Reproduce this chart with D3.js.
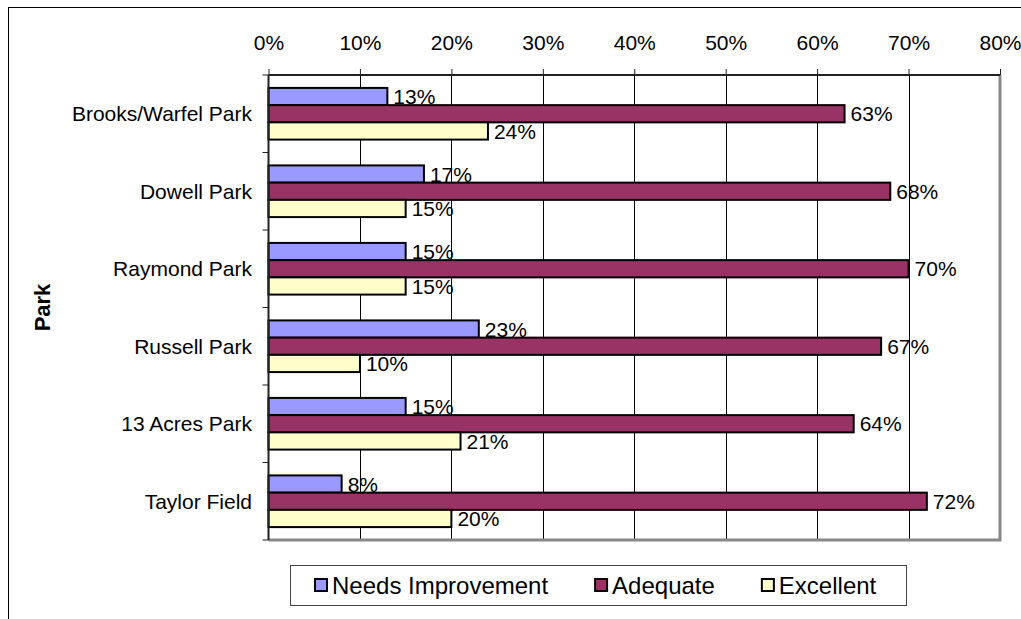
<!DOCTYPE html>
<html>
<head>
<meta charset="utf-8">
<script src="https://cdn.jsdelivr.net/npm/d3@7"></script>
<style>
  html, body { margin: 0; padding: 0; background: #fff; }
  svg { display: block; font-family: "Liberation Sans", Arial, sans-serif; }
</style>
</head>
<body>
<svg id="chart" width="1021" height="619"></svg>
<script>
const categories = ["Brooks/Warfel Park", "Dowell Park", "Raymond Park", "Russell Park", "13 Acres Park", "Taylor Field"];
const seriesNames = ["Needs Improvement", "Adequate", "Excellent"];
const needsImprovement = [0.13, 0.17, 0.15, 0.23, 0.15, 0.08];
const adequate = [0.63, 0.68, 0.70, 0.67, 0.64, 0.72];
const excellent = [0.24, 0.15, 0.15, 0.10, 0.21, 0.20];
const tickValues = [0, 0.1, 0.2, 0.3, 0.4, 0.5, 0.6, 0.7, 0.8];
const axisTitle = "Park";

const seriesValues = [needsImprovement, adequate, excellent];
const colors = ["#9999FF", "#993366", "#FFFFCC"];

const svg = d3.select("#chart");
const plot = { left: 268.5, right: 1000, top: 75, bottom: 540 };

// outer chart border (only left/top visible)
svg.append("rect")
  .attr("x", 8.5).attr("y", 7.5).attr("width", 1100).attr("height", 700)
  .attr("fill", "#fff").attr("stroke", "#000").attr("stroke-width", 1);

const x = d3.scaleLinear().domain([0, 0.8]).range([plot.left, plot.right]);
const y = d3.scaleBand().domain(categories).range([plot.top, plot.bottom]).padding(0);
const ySub = d3.scaleBand().domain(seriesNames).range([0, y.bandwidth()]).paddingInner(0).paddingOuter(0.75);

// gridlines
svg.append("g").selectAll("line")
  .data(tickValues.filter(d => d > 0 && d < 0.8))
  .join("line")
  .attr("x1", d => Math.round(x(d)) + 0.5).attr("x2", d => Math.round(x(d)) + 0.5)
  .attr("y1", plot.top).attr("y2", plot.bottom)
  .attr("stroke", "#000").attr("stroke-width", 1);

// plot area right/bottom border (gray)
svg.append("path")
  .attr("d", `M${x(0.8)},${plot.top} V${plot.bottom} H${plot.left}`)
  .attr("fill", "none").attr("stroke", "#888").attr("stroke-width", 3);

// bars
const data = [];
categories.forEach((c, i) => {
  seriesNames.forEach((s, j) => {
    data.push({ cat: c, series: s, value: seriesValues[j][i], color: colors[j] });
  });
});

const bars = svg.append("g");
bars.selectAll("rect")
  .data(data)
  .join("rect")
  .attr("x", x(0))
  .attr("y", d => y(d.cat) + ySub(d.series))
  .attr("width", d => x(d.value) - x(0))
  .attr("height", ySub.bandwidth())
  .attr("fill", d => d.color)
  .attr("stroke", "#000")
  .attr("stroke-width", 2);

// data labels
svg.append("g").selectAll("text")
  .data(data)
  .join("text")
  .attr("x", d => x(d.value) + 6)
  .attr("y", d => y(d.cat) + ySub(d.series) + ySub.bandwidth() / 2)
  .attr("dy", "0.36em")
  .attr("font-size", 21)
  .attr("fill", "#000")
  .text(d => d3.format(".0%")(d.value));

// top axis
const xAxis = d3.axisTop(x).tickValues(tickValues).tickFormat(d3.format(".0%"))
  .tickSize(6).tickPadding(19);
const gx = svg.append("g").attr("transform", `translate(0,${plot.top})`).call(xAxis);
gx.select(".domain").attr("stroke", "#222").attr("stroke-width", 2).attr("d", `M${plot.left},0H${plot.right}`);
gx.selectAll(".tick line").attr("stroke", "#222");
gx.selectAll(".tick text").attr("font-size", 21).attr("fill", "#000")
  .attr("font-family", "'Liberation Sans', Arial, sans-serif");

// left axis
const gy = svg.append("g");
gy.append("line")
  .attr("x1", plot.left).attr("x2", plot.left)
  .attr("y1", plot.top).attr("y2", plot.bottom)
  .attr("stroke", "#222").attr("stroke-width", 2);
const boundaries = categories.map(c => y(c)).concat([plot.bottom]);
gy.selectAll("line.tk")
  .data(boundaries)
  .join("line").attr("class", "tk")
  .attr("x1", plot.left - 6).attr("x2", plot.left)
  .attr("y1", d => d).attr("y2", d => d)
  .attr("stroke", "#222").attr("stroke-width", 1);
gy.selectAll("text")
  .data(categories)
  .join("text")
  .attr("x", 252)
  .attr("y", d => y(d) + y.bandwidth() / 2)
  .attr("dy", "0.36em")
  .attr("text-anchor", "end")
  .attr("font-size", 21)
  .text(d => d);

// axis title
svg.append("text")
  .attr("transform", `translate(50,${(plot.top + plot.bottom) / 2}) rotate(-90)`)
  .attr("text-anchor", "middle")
  .attr("font-size", 22)
  .attr("font-weight", "bold")
  .text(axisTitle);

// legend
const legend = svg.append("g");
legend.append("rect")
  .attr("x", 290.5).attr("y", 565.5).attr("width", 616).attr("height", 40)
  .attr("fill", "#fff").attr("stroke", "#444").attr("stroke-width", 1);
let lx = 315;
seriesNames.forEach((s, j) => {
  legend.append("rect")
    .attr("x", lx).attr("y", 579).attr("width", 12).attr("height", 12)
    .attr("fill", colors[j]).attr("stroke", "#000").attr("stroke-width", 2);
  const t = legend.append("text")
    .attr("x", lx + 17).attr("y", 585).attr("dy", "0.36em")
    .attr("font-size", 24).text(s);
  lx += 17 + t.node().getComputedTextLength() + 47;
});
</script>
</body>
</html>
